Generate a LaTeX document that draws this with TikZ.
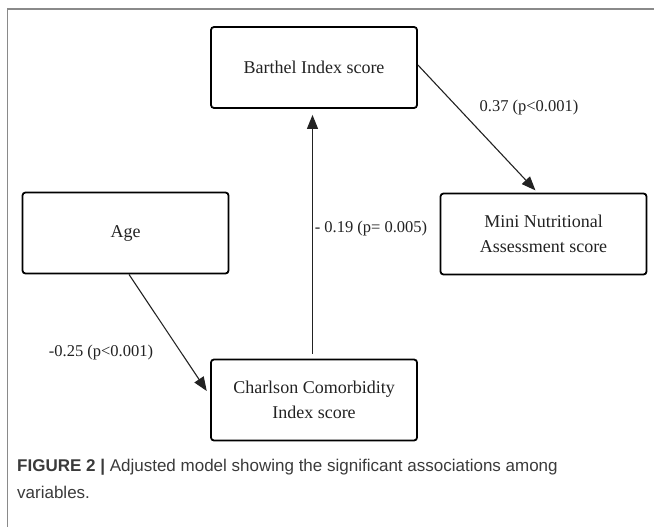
\documentclass[tikz,border=0pt]{standalone}
\usepackage{fontspec}
\setmainfont{Liberation Serif}
\newfontfamily\capfont{Liberation Sans}
\usetikzlibrary{arrows.meta}
\definecolor{ink}{HTML}{222222}
\definecolor{capink}{HTML}{3A3A3A}
\definecolor{framegray}{HTML}{8A8A8A}
\begin{document}
\begin{tikzpicture}[x=1pt,y=-1pt,
  box/.style={draw=black, line width=1.8pt, rounded corners=3pt,
    minimum width=206pt, minimum height=81pt, align=center, inner sep=0pt,
    font=\fontsize{18}{24.5}\selectfont, text=ink},
  conn/.style={line width=1.1pt, draw=ink, -{Triangle[length=14pt,width=11pt]}},
  lab/.style={font=\fontsize{16.5}{20}\selectfont, text=ink, inner sep=0pt}]
\useasboundingbox (0,0) rectangle (654,527);
\coordinate (frameR) at (654,9);
\coordinate (frameC) at (7.5,9);
\coordinate (frameB) at (7.5,527);
\draw[framegray, line width=1.5pt] (frameR) -- (frameC) -- (frameB);

\node[box] (barthel) at (314,67.5) {Barthel Index score};
\node[box] (age) at (125.5,233) {Age};
\node[box] (mini) at (543.5,234) {Mini Nutritional\\Assessment score};
\node[box] (charlson) at (314,400) {Charlson Comorbidity\\Index score};

\draw[conn, shorten <=5pt, shorten >=6pt] ([xshift=-1.5pt]charlson.north) -- ([xshift=-1.5pt]barthel.south);
\draw[conn, shorten >=3pt] ([yshift=2.5pt]barthel.east) -- ([xshift=-6pt]mini.north);
\draw[conn, shorten >=6pt] ([xshift=3.5pt]age.south) -- ([yshift=4pt]charlson.west);

\node[lab] (l1) at (529,108) {0.37 (p<0.001)};
\node[lab] (l2) at (371,229) {- 0.19 (p= 0.005)};
\node[lab] (l3) at (101,353) {-0.25 (p<0.001)};

\node[anchor=base west, inner sep=0pt, align=left, text=capink,
  font=\capfont\fontsize{17}{27}\selectfont] (cap) at (17,498)
  {\textbf{FIGURE 2 |} Adjusted model showing the significant associations among\\variables.};
\end{tikzpicture}
\end{document}
